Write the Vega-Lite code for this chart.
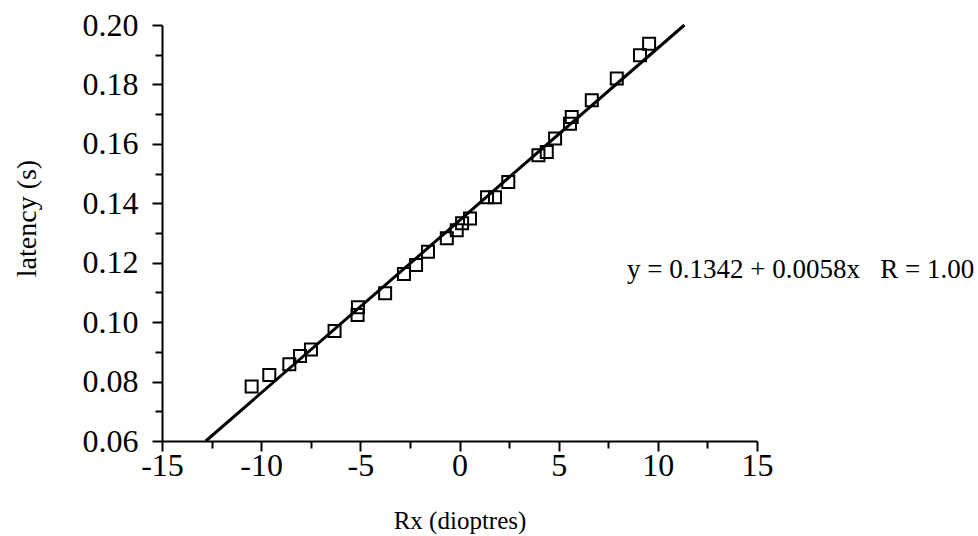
{
  "$schema": "https://vega.github.io/schema/vega-lite/v6.json",
  "width": 595,
  "height": 416,
  "autosize": {"type": "none"},
  "padding": {"left": 162, "top": 25, "right": 221, "bottom": 95},
  "background": "white",
  "config": {
    "view": {"stroke": null},
    "font": "Liberation Serif",
    "axis": {
      "domainColor": "black",
      "domainWidth": 2,
      "tickColor": "black",
      "tickWidth": 2,
      "grid": false,
      "labelFont": "Liberation Serif",
      "labelColor": "black",
      "labelFontSize": 32,
      "titleFont": "Liberation Serif",
      "titleColor": "black",
      "titleFontSize": 26,
      "titleFontWeight": "normal",
      "labelOverlap": false,
      "labelBound": false,
      "labelFlush": false
    }
  },
  "resolve": {"axis": {"x": "independent", "y": "independent"}},
  "layer": [
    {
      "data": {
        "values": [
          {"Rx": -12.79, "latency": 0.06},
          {"Rx": 11.34, "latency": 0.2}
        ]
      },
      "mark": {"type": "line", "color": "black", "strokeWidth": 3},
      "encoding": {
        "x": {
          "field": "Rx",
          "type": "quantitative",
          "scale": {"domain": [-15, 15], "nice": false, "zero": false},
          "axis": {
            "orient": "bottom",
            "title": "Rx (dioptres)",
            "titleFontSize": 25,
            "values": [-15, -10, -5, 0, 5, 10, 15],
            "labelExpr": "'' + datum.value",
            "tickSize": 10,
            "labelPadding": -1,
            "titlePadding": 27
          }
        },
        "y": {
          "field": "latency",
          "type": "quantitative",
          "scale": {"domain": [0.06, 0.2], "nice": false, "zero": false},
          "axis": {
            "orient": "left",
            "title": "latency (s)",
            "titleFontSize": 28,
            "titleY": 193,
            "values": [0.06, 0.08, 0.1, 0.12, 0.14, 0.16, 0.18, 0.2],
            "format": ".2f",
            "tickSize": 10,
            "labelPadding": 14,
            "titlePadding": 41
          }
        }
      }
    },
    {
      "data": {
        "values": [
          {"Rx": -10.48, "latency": 0.0783},
          {"Rx": -9.59, "latency": 0.0822},
          {"Rx": -8.58, "latency": 0.0858},
          {"Rx": -8.04, "latency": 0.0886},
          {"Rx": -7.49, "latency": 0.0908},
          {"Rx": -6.3, "latency": 0.097},
          {"Rx": -5.14, "latency": 0.1024},
          {"Rx": -5.12, "latency": 0.105},
          {"Rx": -3.75, "latency": 0.1097},
          {"Rx": -2.8, "latency": 0.1162},
          {"Rx": -2.19, "latency": 0.1192},
          {"Rx": -1.59, "latency": 0.1237},
          {"Rx": -0.64, "latency": 0.1282},
          {"Rx": -0.14, "latency": 0.1309},
          {"Rx": 0.13, "latency": 0.1333},
          {"Rx": 0.53, "latency": 0.1349},
          {"Rx": 1.39, "latency": 0.142},
          {"Rx": 1.79, "latency": 0.142},
          {"Rx": 2.46, "latency": 0.1472},
          {"Rx": 3.98, "latency": 0.1562},
          {"Rx": 4.4, "latency": 0.1573},
          {"Rx": 4.82, "latency": 0.1618},
          {"Rx": 5.57, "latency": 0.1668},
          {"Rx": 5.66, "latency": 0.169},
          {"Rx": 6.67, "latency": 0.1747},
          {"Rx": 7.93, "latency": 0.182},
          {"Rx": 9.1, "latency": 0.1898},
          {"Rx": 9.56, "latency": 0.1937}
        ]
      },
      "mark": {"type": "point", "shape": "square", "filled": false, "size": 144, "color": "black", "strokeWidth": 2, "opacity": 1},
      "encoding": {
        "x": {
          "field": "Rx",
          "type": "quantitative",
          "axis": {
            "orient": "bottom",
            "title": null,
            "values": [-12.5, -7.5, -2.5, 2.5, 7.5, 12.5],
            "labels": false,
            "domain": false,
            "tickSize": 7
          }
        },
        "y": {
          "field": "latency",
          "type": "quantitative",
          "axis": {
            "orient": "left",
            "title": null,
            "values": [0.07, 0.09, 0.11, 0.13, 0.15, 0.17, 0.19],
            "labels": false,
            "domain": false,
            "tickSize": 7
          }
        }
      }
    },
    {
      "data": {
        "values": [
          {"Rx": 8.45, "latency": 0.1175, "label": "y = 0.1342 + 0.0058x\u00a0\u00a0\u00a0R = 1.00"}
        ]
      },
      "mark": {"type": "text", "align": "left", "baseline": "middle", "fontSize": 27, "font": "Liberation Serif", "color": "black"},
      "encoding": {
        "x": {"field": "Rx", "type": "quantitative", "axis": null},
        "y": {"field": "latency", "type": "quantitative", "axis": null},
        "text": {"field": "label"}
      }
    }
  ]
}
